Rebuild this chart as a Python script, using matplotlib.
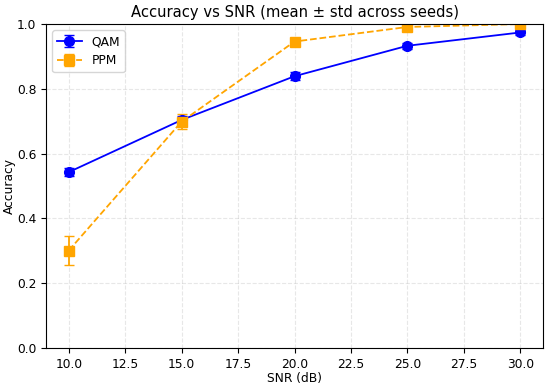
import matplotlib
import matplotlib.pyplot as plt

matplotlib.use('Agg')

snr = [10, 15, 20, 25, 30]
qam_mean = [0.543, 0.704, 0.839, 0.933, 0.974]
qam_std = [0.012, 0.012, 0.012, 0.010, 0.008]
ppm_mean = [0.301, 0.699, 0.946, 0.991, 1.000]
ppm_std = [0.045, 0.022, 0.005, 0.004, 0.002]

plt.rcParams['font.size'] = 8.8


def plot_accuracy():
    fig, ax = plt.subplots(figsize=(5.5, 3.88), dpi=100)
    ax.errorbar(snr, qam_mean, yerr=qam_std, marker='o', markersize=7,
                color='blue', linestyle='-', linewidth=1.3, capsize=3.5, label='QAM')
    ax.errorbar(snr, ppm_mean, yerr=ppm_std, marker='s', markersize=7,
                color='orange', linestyle='--', linewidth=1.3, capsize=3.5, label='PPM')
    ax.set_ylim(0, 1)
    ax.set_xlabel("SNR (dB)")
    ax.set_ylabel("Accuracy")
    ax.yaxis.set_label_coords(-0.06, 0.5)
    ax.xaxis.set_label_coords(0.5, -0.075)
    ax.set_title("Accuracy vs SNR (mean ± std across seeds)", fontsize=10.6, pad=5)
    ax.grid(True, linestyle='--', alpha=0.3)
    ax.legend(loc='upper left')
    fig.subplots_adjust(left=0.084, right=0.987, top=0.938, bottom=0.103)
    fig.savefig("out.png")


if __name__ == "__main__":
    plot_accuracy()
